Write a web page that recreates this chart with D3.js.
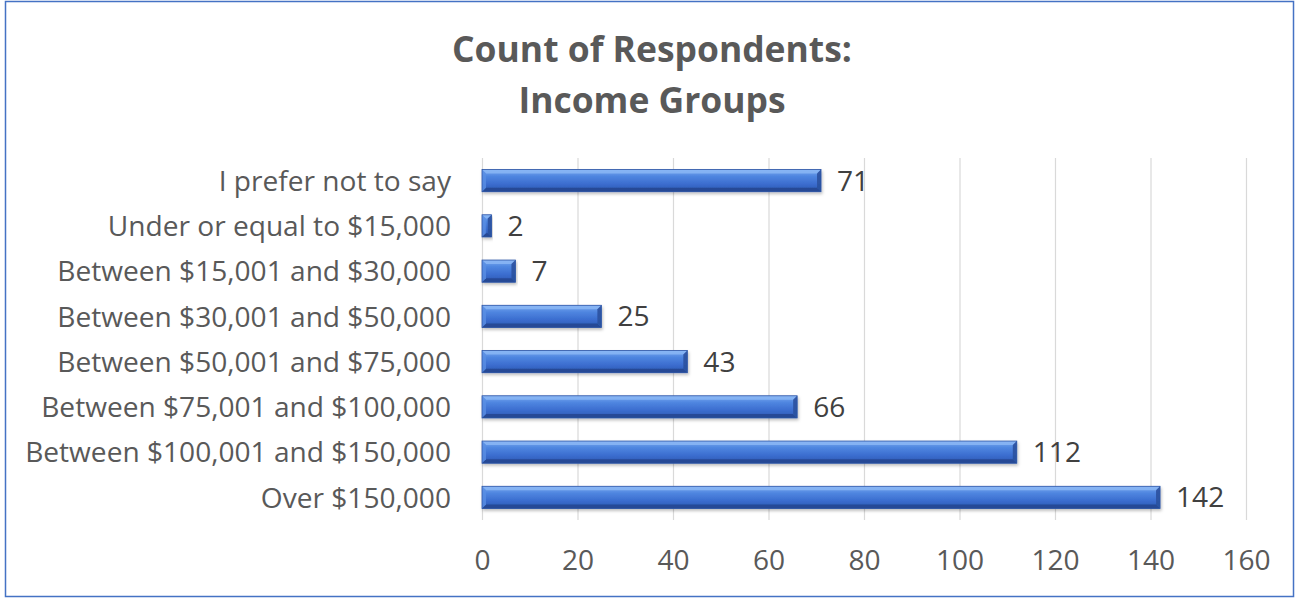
<!DOCTYPE html>
<html><head><meta charset="utf-8">
<script src="https://cdn.jsdelivr.net/npm/d3@7"></script>
<style>html,body{margin:0;padding:0;background:#fff;}svg{display:block;}</style>
</head><body>
<script>
const categories = ["I prefer not to say","Under or equal to $15,000","Between $15,001 and $30,000","Between $30,001 and $50,000","Between $50,001 and $75,000","Between $75,001 and $100,000","Between $100,001 and $150,000","Over $150,000"];
const values = [71, 2, 7, 25, 43, 66, 112, 142];
const xTicks = [0, 20, 40, 60, 80, 100, 120, 140, 160];
const titleLines = ["Count of Respondents:", "Income Groups"];

const W = 1301, H = 599;
const svg = d3.select("body").append("svg").attr("width", W).attr("height", H);
const defs = svg.append("defs");
const g1 = defs.append("linearGradient").attr("id","barg").attr("x1",0).attr("y1",0).attr("x2",0).attr("y2",1);
[[0,"#7aaaf0"],[0.3,"#4f86e0"],[0.65,"#3b6dcf"],[1,"#2d58b0"]].forEach(([o,c])=>g1.append("stop").attr("offset",o).attr("stop-color",c));
const f = defs.append("filter").attr("id","sh").attr("x","-5%").attr("y","-30%").attr("width","110%").attr("height","180%");
f.append("feDropShadow").attr("dx",1).attr("dy",2).attr("stdDeviation",1.5).attr("flood-color","#000").attr("flood-opacity",0.25);

svg.append("rect").attr("x",5.5).attr("y",1.5).attr("width",1288).attr("height",595)
  .attr("fill","#fff").attr("stroke","#4472c4").attr("stroke-width",1.5);

const font = "'Open Sans', sans-serif";
const x = d3.scaleLinear().domain([0,160]).range([482,1246]);
const y = d3.scaleBand().domain(categories).range([158,520]).paddingInner(0.51).paddingOuter(0.255);

function fitSize(text, weight, target){
  const t = svg.append("text").attr("font-family",font).attr("font-weight",weight).attr("font-size",100).text(text);
  const w = t.node().getComputedTextLength(); t.remove();
  return 100*target/w;
}
const titleSize = fitSize(titleLines[0], "bold", 400);
const labelSize = fitSize(categories[6], "normal", 426);

// title
svg.append("g").selectAll("text").data(titleLines).join("text")
  .attr("x",652).attr("y",(d,i)=>62+i*51).attr("text-anchor","middle")
  .attr("font-family",font).attr("font-weight","bold").attr("font-size",titleSize).attr("fill","#595959").text(d=>d);

// grid
svg.append("g").selectAll("line").data(xTicks).join("line")
  .attr("x1",d=>x(d)+0.5).attr("x2",d=>x(d)+0.5).attr("y1",158).attr("y2",520)
  .attr("stroke","#d9d9d9").attr("stroke-width",1.2);

// x axis labels
const xa = svg.append("g").attr("transform","translate(0,520)")
  .call(d3.axisBottom(x).tickValues(xTicks).tickSize(0).tickFormat(d3.format("d")));
xa.select(".domain").remove();
xa.selectAll("text").attr("y",50).attr("dy",null).attr("font-family",font).attr("font-size",labelSize).attr("fill","#595959");

// y axis labels
const ya = svg.append("g").attr("transform","translate(482,0)")
  .call(d3.axisLeft(y).tickSize(0).tickPadding(31));
ya.select(".domain").remove();
ya.selectAll("text").attr("dy","0.36em").attr("font-family",font).attr("font-size",labelSize).attr("fill","#595959");

// bars
const bh = y.bandwidth();
const bars = svg.append("g").selectAll("g").data(categories).join("g").attr("filter","url(#sh)");
bars.each(function(c,i){
  const g = d3.select(this);
  const x0 = x(0), x1 = x(values[i]), y0 = y(c), y1 = y0 + bh;
  const b = Math.min(4, (x1-x0)/2.5);
  g.append("rect").attr("x",x0).attr("y",y0).attr("width",x1-x0).attr("height",bh).attr("fill","url(#barg)");
  g.append("polygon").attr("points",[[x0,y0],[x1,y0],[x1-b,y0+b],[x0+b,y0+b]].join(" ")).attr("fill","#8ab6f4").attr("opacity",0.85);
  g.append("polygon").attr("points",[[x0,y1],[x1,y1],[x1-b,y1-b],[x0+b,y1-b]].join(" ")).attr("fill","#23468f").attr("opacity",0.85);
  g.append("polygon").attr("points",[[x1,y0],[x1,y1],[x1-b,y1-b],[x1-b,y0+b]].join(" ")).attr("fill","#2b519e").attr("opacity",0.9);
  g.append("polygon").attr("points",[[x0,y0],[x0,y1],[x0+b,y1-b],[x0+b,y0+b]].join(" ")).attr("fill","#5a8fe4").attr("opacity",0.8);
  g.append("rect").attr("x",x0).attr("y",y0).attr("width",x1-x0).attr("height",bh).attr("fill","none").attr("stroke","#2d55a5").attr("stroke-width",0.8);
});

// data labels
svg.append("g").selectAll("text").data(categories).join("text")
  .attr("x",(c,i)=>x(values[i])+16).attr("y",c=>y(c)+bh/2).attr("dy","0.36em")
  .attr("font-family",font).attr("font-size",labelSize).attr("fill","#404040").text((c,i)=>values[i]);
</script>
</body></html>
